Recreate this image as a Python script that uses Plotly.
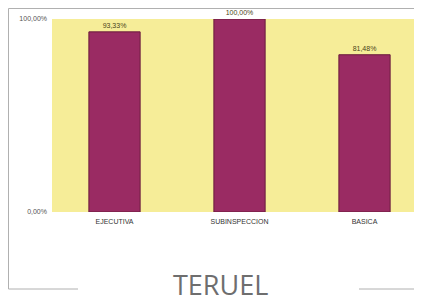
import plotly.graph_objects as go

categories = ["EJECUTIVA", "SUBINSPECCION", "BASICA"]
values = [0.9333, 1.0, 0.8148]
value_labels = ["93,33%", "100,00%", "81,48%"]
y_tick_vals = [0, 1]
y_tick_text = ["0,00%", "100,00%"]
title_text = "TERUEL"

# page body has an 8px margin, so the figure starts at (8, 8) in the window
OFF = 8
W, H = 422 - OFF, 304 - OFF
ML, MR, MT, MB = 52 - OFF, 0, 19 - OFF, 304 - 212
pw = W - ML - MR
ph = H - MT - MB

def px_x(x):
    return (x - OFF - ML) / pw

def px_y(y):
    return (H - MB - (y - OFF)) / ph

fig = go.Figure()
fig.add_trace(go.Bar(
    x=categories, y=values,
    text=value_labels, textposition="outside",
    textfont=dict(size=7, color="#4a4418", family="Arial"),
    marker=dict(color="#9a2b63", line=dict(color="#6a1c3c", width=1)),
    width=0.41, cliponaxis=False,
))

line_style = dict(color="#b0b0b0", width=1)
shapes = [
    dict(type="line", xref="paper", yref="paper", x0=px_x(8.5), x1=px_x(422), y0=px_y(8.5), y1=px_y(8.5), line=line_style),
    dict(type="line", xref="paper", yref="paper", x0=px_x(8.5), x1=px_x(8.5), y0=px_y(8.5), y1=px_y(289), line=line_style),
    dict(type="line", xref="paper", yref="paper", x0=px_x(8.5), x1=px_x(78), y0=px_y(289), y1=px_y(289), line=line_style),
    dict(type="line", xref="paper", yref="paper", x0=px_x(359), x1=px_x(422), y0=px_y(289), y1=px_y(289), line=line_style),
]

fig.update_layout(
    width=W, height=H,
    margin=dict(l=ML, r=MR, t=MT, b=MB),
    paper_bgcolor="white",
    plot_bgcolor="#f6ed98",
    showlegend=False,
    shapes=shapes,
    annotations=[dict(
        text=title_text, xref="paper", yref="paper",
        x=px_x(220), y=px_y(303.5), xanchor="center", yanchor="bottom",
        showarrow=False, borderpad=0,
        font=dict(size=27, color="#6e6e6e", family="Open Sans"),
    )],
    xaxis=dict(
        range=[-0.5, 2.46], showgrid=False, zeroline=False, showline=False,
        tickfont=dict(size=7, color="#333333", family="Arial"),
        ticks="", ticklabelstandoff=4,
    ),
    yaxis=dict(
        range=[0, 1], tickvals=y_tick_vals, ticktext=y_tick_text,
        showgrid=False, zeroline=False, showline=False,
        tickfont=dict(size=7, color="#555555", family="Arial"),
        ticks="", ticklabelstandoff=4,
    ),
)

fig.write_html("out.html")
